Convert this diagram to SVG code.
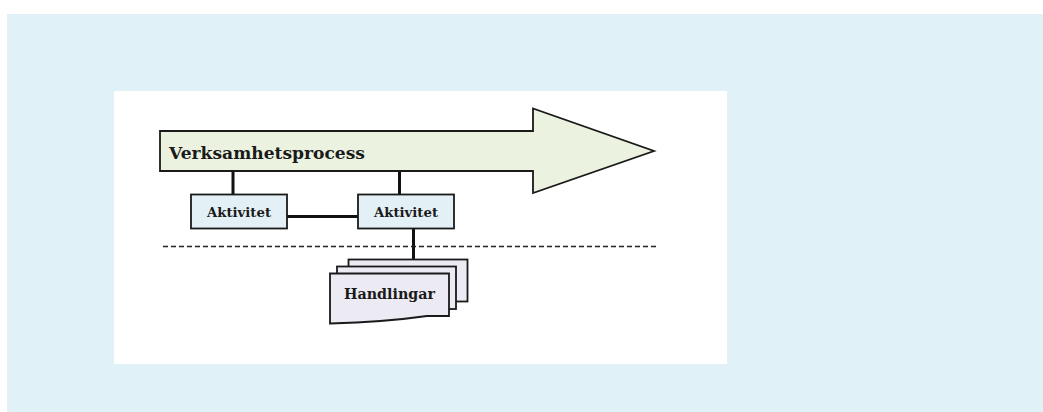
<svg xmlns="http://www.w3.org/2000/svg" width="1043" height="412" viewBox="0 0 1043 412">
<defs>
<style>
.shape{stroke:#1a1a1a;stroke-width:1.8;stroke-linejoin:miter}
.proc{fill:#ebf3e0}
.act{fill:#e3f0f5}
.doc{fill:#ecebf4}
.lbl{font-family:"DejaVu Serif","Liberation Serif",serif;font-weight:bold;fill:#1a1a1a}
.conn{stroke:#111;stroke-width:3;fill:none}
.dash{stroke:#222;stroke-width:1.6;stroke-dasharray:5 3;fill:none}
</style>
</defs>
<rect x="7" y="14" width="1036" height="398" fill="#e1f1f8"/>
<rect x="114" y="91" width="613" height="273" fill="#ffffff"/>
<g id="connectors">
<line class="conn" x1="233" y1="171" x2="233" y2="194"/>
<line class="conn" x1="399.5" y1="171" x2="399.5" y2="194"/>
<line class="conn" x1="287" y1="216.5" x2="358" y2="216.5"/>
<line class="conn" x1="413.5" y1="228" x2="413.5" y2="260"/>
<line class="dash" x1="163" y1="246.5" x2="656" y2="246.5"/>
</g>
<g id="verksamhetsprocess">
<polygon class="shape proc" points="160,131 533,131 533,108.5 654,151 533,193 533,171 160,171"/>
<text class="lbl" x="169" y="158.5" font-size="17.5" textLength="196" lengthAdjust="spacingAndGlyphs">Verksamhetsprocess</text>
</g>
<g id="aktivitet1">
<rect class="shape act" x="191" y="194.5" width="96" height="34"/>
<text class="lbl" x="239" y="217" font-size="13" text-anchor="middle" textLength="64" lengthAdjust="spacingAndGlyphs">Aktivitet</text>
</g>
<g id="aktivitet2">
<rect class="shape act" x="358" y="194.5" width="96" height="34"/>
<text class="lbl" x="406" y="217" font-size="13" text-anchor="middle" textLength="64" lengthAdjust="spacingAndGlyphs">Aktivitet</text>
</g>
<g id="handlingar">
<rect class="shape doc" x="348.5" y="259.5" width="119" height="42"/>
<rect class="shape doc" x="337" y="266.5" width="119" height="42.5"/>
<path class="shape doc" d="M330,273.5 H449 V316 H427 Q385,322 330,323.5 Z"/>
<text class="lbl" x="389.5" y="299" font-size="14.5" text-anchor="middle" textLength="91" lengthAdjust="spacingAndGlyphs">Handlingar</text>
</g>
</svg>
